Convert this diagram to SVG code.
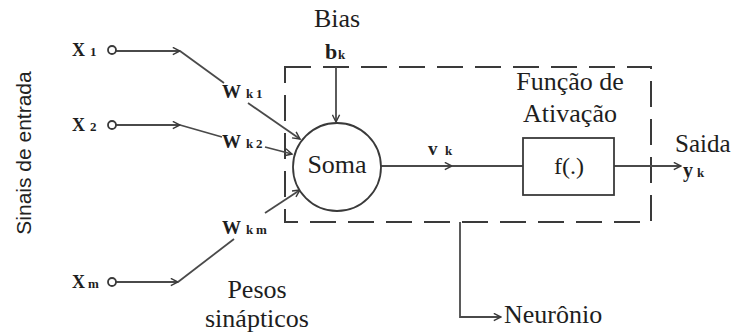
<svg xmlns="http://www.w3.org/2000/svg" width="734" height="335" viewBox="0 0 734 335">
<defs>
<marker id="arr" viewBox="0 0 10 10" refX="9" refY="5" markerWidth="9" markerHeight="9" markerUnits="userSpaceOnUse" orient="auto">
<path d="M1,1 L9,5 L1,9" fill="none" stroke="#3a3a3a" stroke-width="1.6"/>
</marker>
</defs>
<style>
.ln{fill:none;stroke:#4a4a4a;stroke-width:1.8}
.sh{fill:#fff;stroke:#3a3a3a;stroke-width:1.8}
.dash{fill:none;stroke:#3a3a3a;stroke-width:2;stroke-dasharray:26 12}
text{font-family:'Liberation Serif','DejaVu Serif',serif;fill:#1e1e1e}
.lg{font-size:26px}
.b{font-weight:bold}
.sub{font-size:13px;font-weight:bold}
.mid{text-anchor:middle}
text.sans{font-family:'Liberation Sans','DejaVu Sans',sans-serif;fill:#222;font-size:21px}
</style>
<rect width="734" height="335" fill="#fff"/>

<g id="neuron-box">
<rect class="dash" x="285" y="67" width="366" height="155"/>
</g>

<g id="connectors">
<path class="ln" d="M116,51 L180,51" marker-end="url(#arr)"/>
<path class="ln" d="M180,51 L224,83"/>
<path class="ln" d="M248,103 L300,139" marker-end="url(#arr)"/>
<path class="ln" d="M116,125 L180,125" marker-end="url(#arr)"/>
<path class="ln" d="M180,125 L222,137"/>
<path class="ln" d="M265,147 L292,154" marker-end="url(#arr)"/>
<path class="ln" d="M116,282 L178,282" marker-end="url(#arr)"/>
<path class="ln" d="M178,282 L234,239"/>
<path class="ln" d="M265,213 L300,190" marker-end="url(#arr)"/>
<path class="ln" d="M336,67 L336,122" marker-end="url(#arr)"/>
<path class="ln" d="M381,166 L452,166" marker-end="url(#arr)"/>
<path class="ln" d="M452,166 L523,166"/>
<path class="ln" d="M614,166 L681,166" marker-end="url(#arr)"/>
<path class="ln" d="M460,222 L460,317 L501,317" marker-end="url(#arr)"/>
</g>

<g id="input-x1">
<circle class="sh" cx="112" cy="50" r="4"/>
<text class="b" x="72" y="56" font-size="18">X</text>
<text class="sub" x="90" y="56">1</text>
</g>
<g id="input-x2">
<circle class="sh" cx="112" cy="125" r="4"/>
<text class="b" x="72" y="131" font-size="18">X</text>
<text class="sub" x="90" y="131">2</text>
</g>
<g id="input-xm">
<circle class="sh" cx="112" cy="282" r="4"/>
<text class="b" x="72" y="288" font-size="18">X</text>
<text class="sub" x="88" y="288" font-size="12">m</text>
</g>

<g id="weight-wk1">
<text class="b" x="222" y="98" font-size="19">W</text>
<text class="sub" x="246" y="98">k</text>
<text class="sub" x="256" y="98">1</text>
</g>
<g id="weight-wk2">
<text class="b" x="222" y="148" font-size="19">W</text>
<text class="sub" x="246" y="148">k</text>
<text class="sub" x="256" y="148">2</text>
</g>
<g id="weight-wkm">
<text class="b" x="222" y="234" font-size="19">W</text>
<text class="sub" x="246" y="234">k</text>
<text class="sub" x="256" y="234" font-size="12">m</text>
</g>

<g id="label-inputs">
<text class="sans" transform="translate(31,153) rotate(-90)" text-anchor="middle">Sinais de entrada</text>
</g>
<g id="label-pesos">
<text class="lg mid" x="257" y="298">Pesos</text>
<text class="lg mid" x="257" y="327">sinápticos</text>
</g>

<g id="bias">
<text class="lg mid" x="337" y="27">Bias</text>
<text class="b" x="325" y="59" font-size="22">b</text>
<text class="sub" x="338" y="59">k</text>
</g>

<g id="soma">
<circle class="sh" cx="337" cy="167" r="44"/>
<text class="lg mid" x="337" y="173">Soma</text>
</g>

<g id="label-vk">
<text class="b" x="428" y="155" font-size="19">v</text>
<text class="sub" x="445" y="155">k</text>
</g>

<g id="activation">
<text class="lg mid" x="570" y="90">Função de</text>
<text class="lg mid" x="570" y="122">Ativação</text>
<rect class="sh" x="523" y="138" width="91" height="57"/>
<text class="mid" x="569" y="174" font-size="24">f(.)</text>
</g>

<g id="output">
<text x="675" y="152" font-size="25">Saida</text>
<text class="b" x="683" y="177" font-size="20">y</text>
<text class="sub" x="697" y="177">k</text>
</g>

<g id="label-neuronio">
<text class="lg" x="504" y="323">Neurônio</text>
</g>
</svg>
